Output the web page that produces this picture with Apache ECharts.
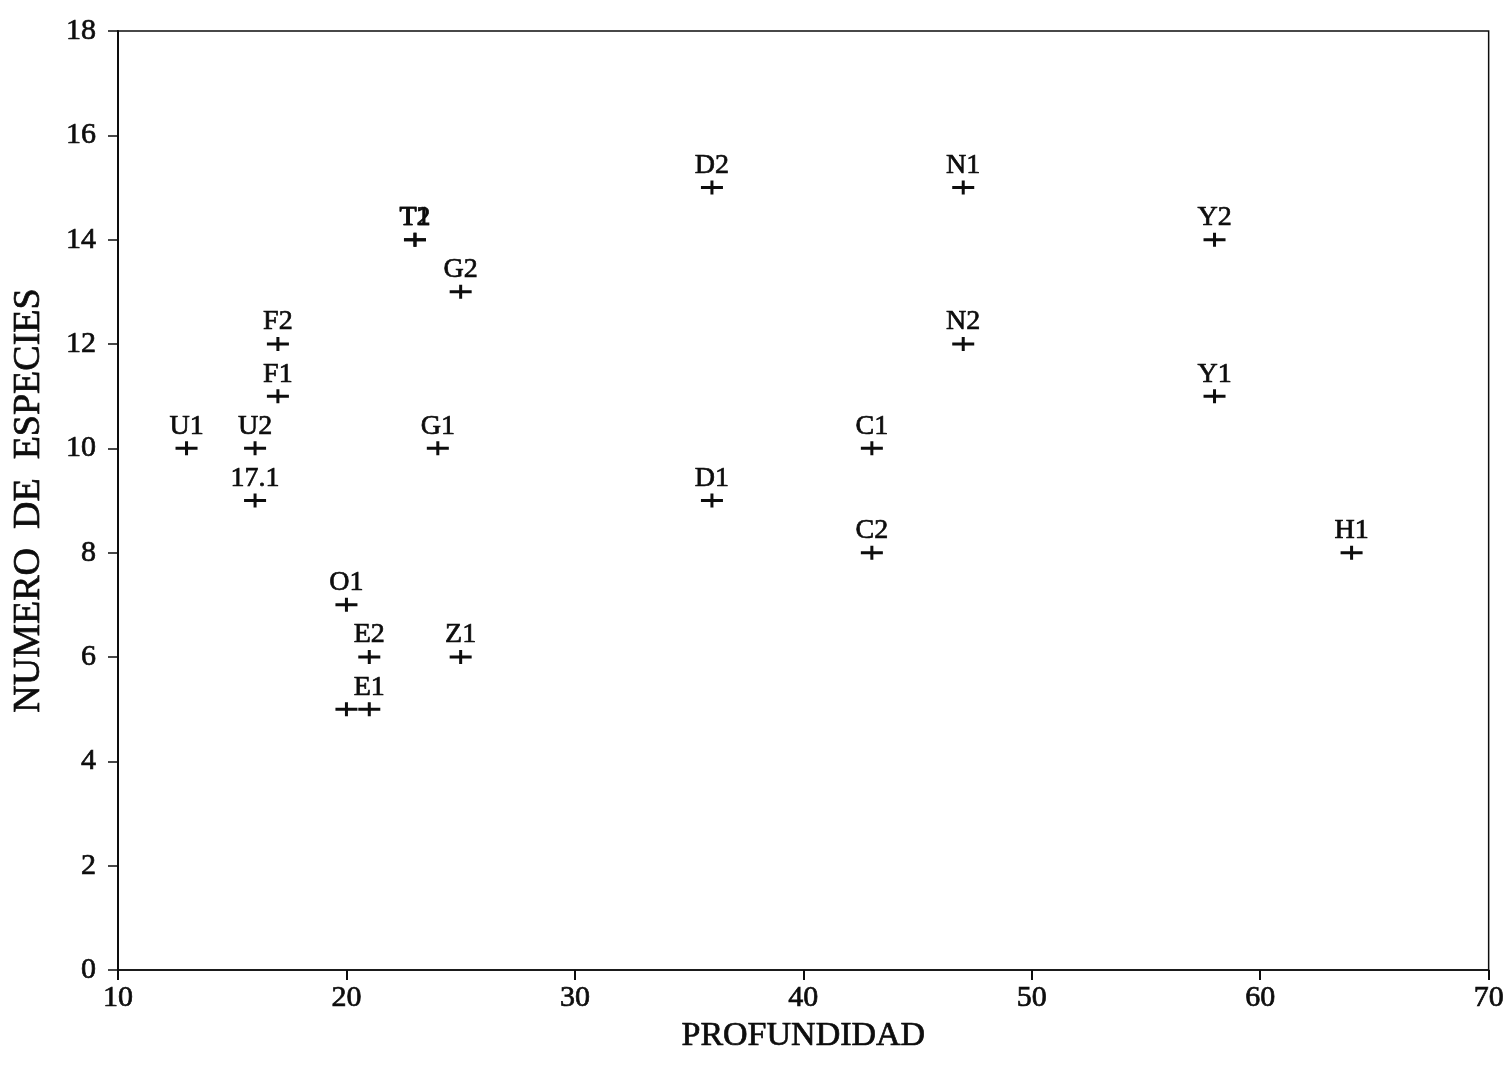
<!DOCTYPE html>
<html>
<head>
<meta charset="utf-8">
<title>Número de especies vs profundidad</title>
<script src="https://cdn.jsdelivr.net/npm/echarts@6/dist/echarts.min.js"></script>
<style>
  html, body { margin: 0; padding: 0; background: #fff; }
  #chart { width: 1507px; height: 1066px; }
</style>
</head>
<body>
<div id="chart"></div>
<script>
// Sampling stations: depth (m) and number of species recorded
const sites   = ['U1', 'U2', '17.1', 'F2', 'F1', 'O1', 'E2', 'E1', '', 'T1', 'T2', 'G2', 'G1', 'Z1',
                 'D2', 'D1', 'C1', 'C2', 'N1', 'N2', 'Y2', 'Y1', 'H1'];
const depth   = [13, 16, 16, 17, 17, 20, 21, 21, 20, 23, 23, 25, 24, 25,
                 36, 36, 43, 43, 47, 47, 58, 58, 64];
const species = [10, 10, 9, 12, 11, 7, 6, 5, 5, 14, 14, 13, 10, 6,
                 15, 9, 10, 8, 15, 12, 14, 11, 8];

const xTicks = { min: 10, max: 70, interval: 10 };
const yTicks = { min: 0, max: 18, interval: 2 };

const ink = '#0d0d0d';
const font = '"Liberation Serif", "DejaVu Serif", serif';
// a thin stroke in the text colour gives the heavier printed look
const heavy = { textBorderColor: ink, textBorderWidth: 0.7 };

// plus-shaped marker
const plus = 'path://M0,5.5L9.5,5.5L9.5,0L12.5,0L12.5,5.5L22,5.5L22,8.5L12.5,8.5L12.5,14L9.5,14L9.5,8.5L0,8.5Z';

const points = depth.map((d, i) => ({ value: [d, species[i]], name: sites[i] }));

const chart = echarts.init(document.getElementById('chart'));
chart.setOption({
  backgroundColor: '#ffffff',
  animation: false,
  grid: {
    left: 118, right: 18, top: 31, bottom: 96,
    show: true, borderColor: ink, borderWidth: 1.5, backgroundColor: 'transparent'
  },
  xAxis: {
    type: 'value',
    min: xTicks.min, max: xTicks.max, interval: xTicks.interval,
    name: 'PROFUNDIDAD',
    nameLocation: 'middle',
    nameGap: 42,
    nameTextStyle: Object.assign({ color: ink, fontFamily: font, fontSize: 34 }, heavy),
    axisLine: { show: true, lineStyle: { color: ink, width: 1.5 } },
    axisTick: { show: true, inside: false, length: 10, lineStyle: { color: ink, width: 2 } },
    axisLabel: Object.assign({ color: ink, fontFamily: font, fontSize: 30, margin: 13 }, heavy),
    splitLine: { show: false }
  },
  yAxis: {
    type: 'value',
    min: yTicks.min, max: yTicks.max, interval: yTicks.interval,
    name: 'NUMERO  DE  ESPECIES',
    nameLocation: 'middle',
    nameGap: 70,
    nameTextStyle: Object.assign({ color: ink, fontFamily: font, fontSize: 38 }, heavy),
    axisLine: { show: true, lineStyle: { color: ink, width: 2 } },
    axisTick: { show: true, inside: false, length: 10, lineStyle: { color: ink, width: 1.5 } },
    axisLabel: Object.assign({ color: ink, fontFamily: font, fontSize: 30, margin: 22 }, heavy),
    splitLine: { show: false }
  },
  series: [{
    type: 'scatter',
    data: points,
    symbol: plus,
    symbolSize: [22, 14],
    symbolKeepAspect: false,
    itemStyle: { color: ink, opacity: 1 },
    label: Object.assign({
      show: true,
      position: 'top',
      distance: 1,
      formatter: p => p.name,
      color: ink,
      fontFamily: font,
      fontSize: 28
    }, heavy)
  }]
});
</script>
</body>
</html>
